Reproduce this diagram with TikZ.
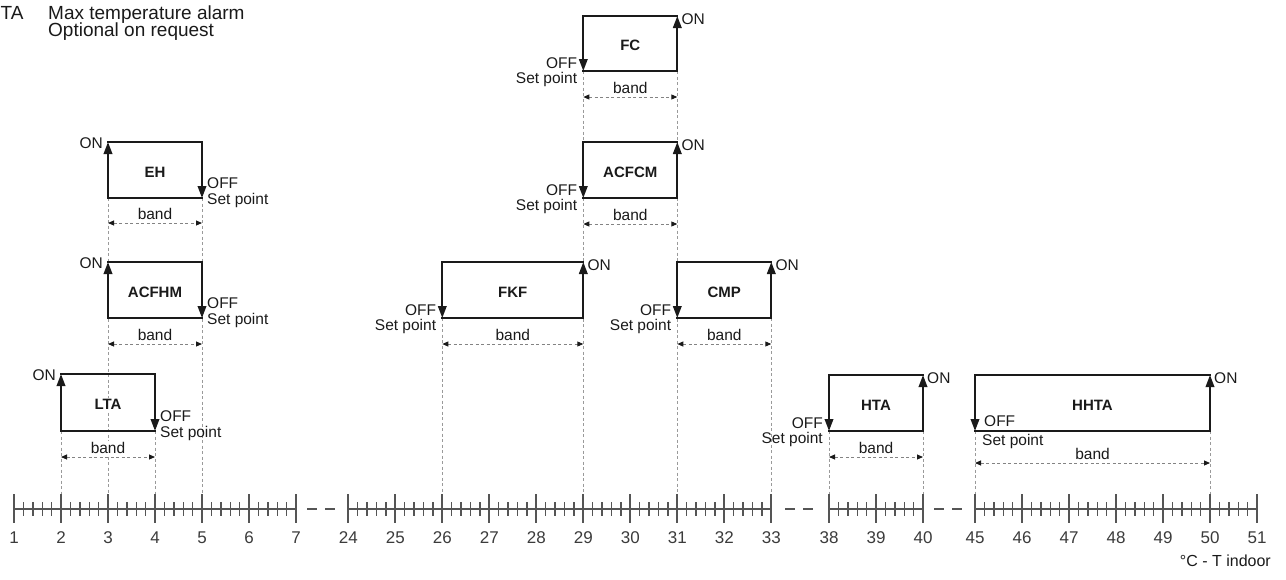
\documentclass[tikz,border=0pt]{standalone}
\usepackage{fontspec}
\setmainfont{Liberation Sans}
\usetikzlibrary{arrows.meta,calc,backgrounds}

\definecolor{ink}{HTML}{1A1A1A}
\definecolor{axisc}{HTML}{555555}
\definecolor{guide}{HTML}{9A9A9A}

\tikzset{
  lbl/.style={inner sep=0pt, font=\fontsize{15.5}{18}\selectfont, text=ink},
  ttl/.style={inner sep=1pt, fill=white, font=\fontsize{15}{18}\selectfont\bfseries, text=ink},
  bandtxt/.style={inner sep=1pt, fill=white, font=\fontsize{15.5}{18}\selectfont, text=ink},
  numtxt/.style={inner sep=0pt, font=\fontsize{17}{20}\selectfont, text=axisc!70!black},
  boxedge/.style={line width=2pt, draw=ink, line cap=rect},
  arrowed/.style={line width=2pt, draw=ink, -{Triangle[length=12pt,width=8.5pt]}},
  guideline/.style={draw=guide, line width=0.9pt, dash pattern=on 3pt off 2.5pt},
  bandline/.style={draw=guide!85!black, line width=0.9pt, dash pattern=on 3pt off 2.5pt,
    {Triangle[length=6pt,width=5pt,color=ink]}-{Triangle[length=6pt,width=5pt,color=ink]}},
  axisline/.style={draw=axisc, line width=2pt},
  majortick/.style={draw=axisc, line width=1.8pt},
  minortick/.style={draw=axisc, line width=1.4pt},
}

% #1 name, #2 xl, #3 xr, #4 ytop, #5 ybot, #6 title, #7 band y, #8 up-arrow side (l or r)
\newcommand\hystbox[8]{%
  \coordinate (#1lt) at (#2,#4);
  \coordinate (#1rt) at (#3,#4);
  \coordinate (#1lb) at (#2,#5);
  \coordinate (#1rb) at (#3,#5);
  \draw[boxedge] (#1lt) -- (#1rt);
  \draw[boxedge] (#1lb) -- (#1rb);
  \if#8l
    \draw[arrowed] (#1lb) -- (#1lt);
    \draw[arrowed] (#1rt) -- (#1rb);
  \else
    \draw[arrowed] (#1lt) -- (#1lb);
    \draw[arrowed] (#1rb) -- (#1rt);
  \fi
  \node[ttl] (#1name) at ($(#1lt)!0.5!(#1rb)+(0,2)$) {#6};
  \coordinate (#1bl) at (#2,#7);
  \coordinate (#1br) at (#3,#7);
  \draw[bandline] (#1bl) -- (#1br);
  \node[bandtxt, anchor=base] (#1band) at ($(#1bl)!0.5!(#1br)+(0,-4)$) {band};
}
\newcommand\onleft[1]{\node[lbl, anchor=base east] (#1on) at ($(#1lt)+(-5,6)$) {ON};}
\newcommand\onright[1]{\node[lbl, anchor=base west] (#1on) at ($(#1rt)+(4,8.5)$) {ON};}
\newcommand\offright[1]{%
  \node[lbl, anchor=base west] (#1off) at ($(#1rb)+(5,-10)$) {OFF};
  \node[lbl, anchor=base west] (#1sp) at ($(#1rb)+(5,6)$) {Set point};}
\newcommand\offleft[1]{%
  \node[lbl, anchor=base east] (#1off) at ($(#1lb)+(-6,-2.5)$) {OFF};
  \node[lbl, anchor=base east] (#1sp) at ($(#1lb)+(-6,12.5)$) {Set point};}

% axis segment: #1 first value, #2 last value, #3 x of first value
\newcommand\axseg[3]{%
  \foreach \v in {#1,...,#2} {
    \pgfmathsetmacro\px{#3+47*(\v-#1)}
    \coordinate (a\v) at (\px,509);
    \draw[majortick] (\px,494) -- (\px,523);
    \node[numtxt, anchor=base] (n\v) at (\px,543) {\v};
  }
  \pgfmathtruncatemacro\vlast{#2-1}
  \foreach \v in {#1,...,\vlast} {
    \foreach \k in {1,2,3,4} {
      \pgfmathsetmacro\mx{#3+47*(\v-#1)+9.4*\k}
      \draw[minortick] (\mx,502) -- (\mx,516);
    }
  }
  \draw[axisline] (a#1) -- (a#2);
}
\newcommand\axgap[2]{%
  \draw[axisline] ($(#1)!0.5!(#2)+(-15,0)$) -- ($(#1)!0.5!(#2)+(-5,0)$);
  \draw[axisline] ($(#1)!0.5!(#2)+(3,0)$) -- ($(#1)!0.5!(#2)+(13,0)$);
}

\begin{document}
\begin{tikzpicture}[x=1pt,y=-1pt]
\useasboundingbox (0,0) rectangle (1286,579);

% legend text
\node[inner sep=0pt, anchor=base west, font=\fontsize{19}{22}\selectfont, text=ink] (leg1) at (0.5,19.3) {TA};
\node[inner sep=0pt, anchor=base west, font=\fontsize{19}{22}\selectfont, text=ink] (leg2) at (48,19.3) {Max temperature alarm};
\node[inner sep=0pt, anchor=base west, font=\fontsize{19}{22}\selectfont, text=ink] (leg3) at (48,36) {Optional on request};

% axis
\axseg{1}{7}{14}
\axseg{24}{33}{348.3}
\axseg{38}{40}{829}
\axseg{45}{51}{975}
\axgap{a7}{a24}
\axgap{a33}{a38}
\axgap{a40}{a45}
\node[lbl, anchor=base east, font=\fontsize{16}{19}\selectfont] (unit) at (1271,566.5) {°C - T indoor};

% heating-type boxes (ON on the left)
\hystbox{EH}{108}{202}{142}{198}{EH}{223}{l}
\onleft{EH}\offright{EH}
\hystbox{ACFHM}{108}{202}{262}{318}{ACFHM}{344}{l}
\onleft{ACFHM}\offright{ACFHM}
\hystbox{LTA}{61}{155}{374}{431}{LTA}{457}{l}
\onleft{LTA}\offright{LTA}

% cooling-type boxes (ON on the right)
\hystbox{FC}{583.3}{677.3}{16}{71}{FC}{97}{r}
\onright{FC}\offleft{FC}
\hystbox{ACFCM}{583.3}{677.3}{142}{198}{ACFCM}{224}{r}
\onright{ACFCM}\offleft{ACFCM}
\hystbox{FKF}{442.3}{583.3}{262}{318}{FKF}{344}{r}
\onright{FKF}\offleft{FKF}
\hystbox{CMP}{677.3}{771.3}{262}{318}{CMP}{344}{r}
\onright{CMP}\offleft{CMP}
\hystbox{HTA}{829}{923}{375}{431}{HTA}{457}{r}
\onright{HTA}\offleft{HTA}
\hystbox{HHTA}{975}{1210}{375}{431}{HHTA}{463}{r}
\onright{HHTA}
\node[lbl, anchor=base west] (HHTAoff) at ($(HHTAlb)+(9,-5)$) {OFF};
\node[lbl, anchor=base west] (HHTAsp) at ($(HHTAlb)+(7,14)$) {Set point};

% guide lines behind everything
\begin{scope}[on background layer]
  \draw[guideline] (EHlb) -- (a3);
  \draw[guideline] (EHrb) -- (a5);
  \draw[guideline] (LTAlb) -- (a2);
  \draw[guideline] (LTArb) -- (a4);
  \draw[guideline] (FClb) -- (a29);
  \draw[guideline] (FCrb) -- (a31);
  \draw[guideline] (FKFlb) -- (a26);
  \draw[guideline] (CMPrb) -- (a33);
  \draw[guideline] (HTAlb) -- (a38);
  \draw[guideline] (HTArb) -- (a40);
  \draw[guideline] (HHTAlb) -- (a45);
  \draw[guideline] (HHTArb) -- (a50);
\end{scope}
\end{tikzpicture}
\end{document}
